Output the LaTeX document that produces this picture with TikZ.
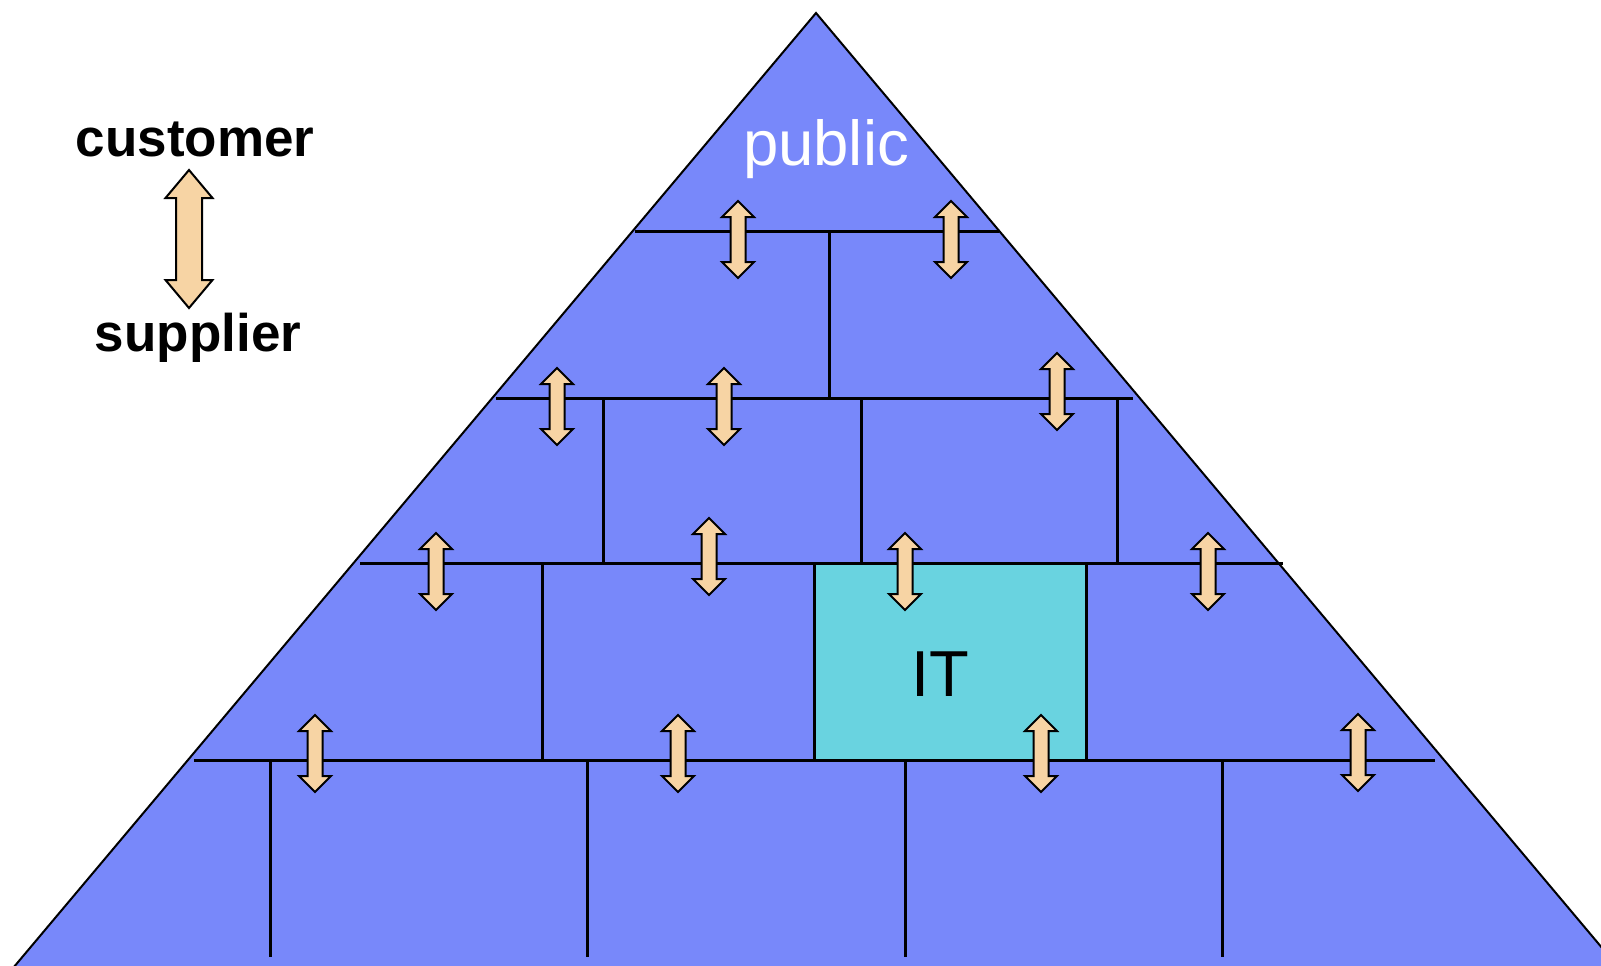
\documentclass[tikz,border=0pt]{standalone}
\usepackage{fontspec}
\setmainfont{Liberation Sans}
\definecolor{pyr}{RGB}{120,136,250}
\definecolor{itc}{RGB}{105,211,224}
\definecolor{arrc}{RGB}{247,212,164}
\tikzset{
  wall/.style={line width=1.5pt, black},
  arr/.style={fill=arrc, draw=black, line width=1pt, line join=miter},
  lbl/.style={anchor=base, inner sep=0pt},
}
\newcommand\updown[2]{%
  \draw[arr] (#1,#2) -- ++(16,16) -- ++(-8.5,0) -- ++(0,45) -- ++(8.5,0) -- ++(-16,16)
    -- ++(-16,-16) -- ++(8.5,0) -- ++(0,-45) -- ++(-8.5,0) -- cycle;}
\begin{document}
\begin{tikzpicture}[x=0.5pt,y=-0.5pt]
\useasboundingbox (0,0) rectangle (1601,965);
\clip (0,0) rectangle (1601,965);
% pyramid
\coordinate (apex) at (816,13);
\coordinate (bl) at (-50,1043);
\coordinate (br) at (1682,1043);
\fill[pyr] (apex) -- (bl) -- (br) -- cycle;
% IT box
\fill[itc] (814,563) rectangle (1086,760);
% horizontal lines
\draw[wall] (635,231) -- (999,231);
\draw[wall] (496,398) -- (1133,398);
\draw[wall] (360,563) -- (1283,563);
\draw[wall] (194,760) -- (1435,760);
% vertical lines
\draw[wall] (829,231) -- (829,398);
\foreach \x in {603,861,1117} \draw[wall] (\x,398) -- (\x,563);
\foreach \x in {542,814,1086} \draw[wall] (\x,563) -- (\x,760);
\foreach \x in {270,587,905,1222} \draw[wall] (\x,760) -- (\x,957);
% outline
\draw[line width=1pt] (bl) -- (apex) -- (br);
% arrows
\updown{738}{201}
\updown{951}{201}
\updown{557}{368}
\updown{724}{368}
\updown{1057}{353}
\updown{436}{533}
\updown{709}{518}
\updown{905}{533}
\updown{1208}{533}
\updown{315}{715}
\updown{678}{715}
\updown{1041}{715}
\updown{1358}{714}
% legend arrow
\draw[arr] (189,170) -- ++(23.5,28) -- ++(-10.5,0) -- ++(0,82) -- ++(10.5,0) -- ++(-23.5,28)
  -- ++(-23.5,-28) -- ++(10.5,0) -- ++(0,-82) -- ++(-10.5,0) -- cycle;
% texts
\node[lbl, font=\fontsize{26.5pt}{30pt}\selectfont\bfseries] (cust) at (195,156) {customer};
\node[lbl, font=\fontsize{26.5pt}{30pt}\selectfont\bfseries] (supp) at (198,351) {supplier};
\node[lbl, white, font=\fontsize{31.75pt}{36pt}\selectfont] (pub) at (826,165) {public};
\node[lbl, font=\fontsize{32.5pt}{36pt}\selectfont] (it) at (940,696) {IT};
\end{tikzpicture}
\end{document}
